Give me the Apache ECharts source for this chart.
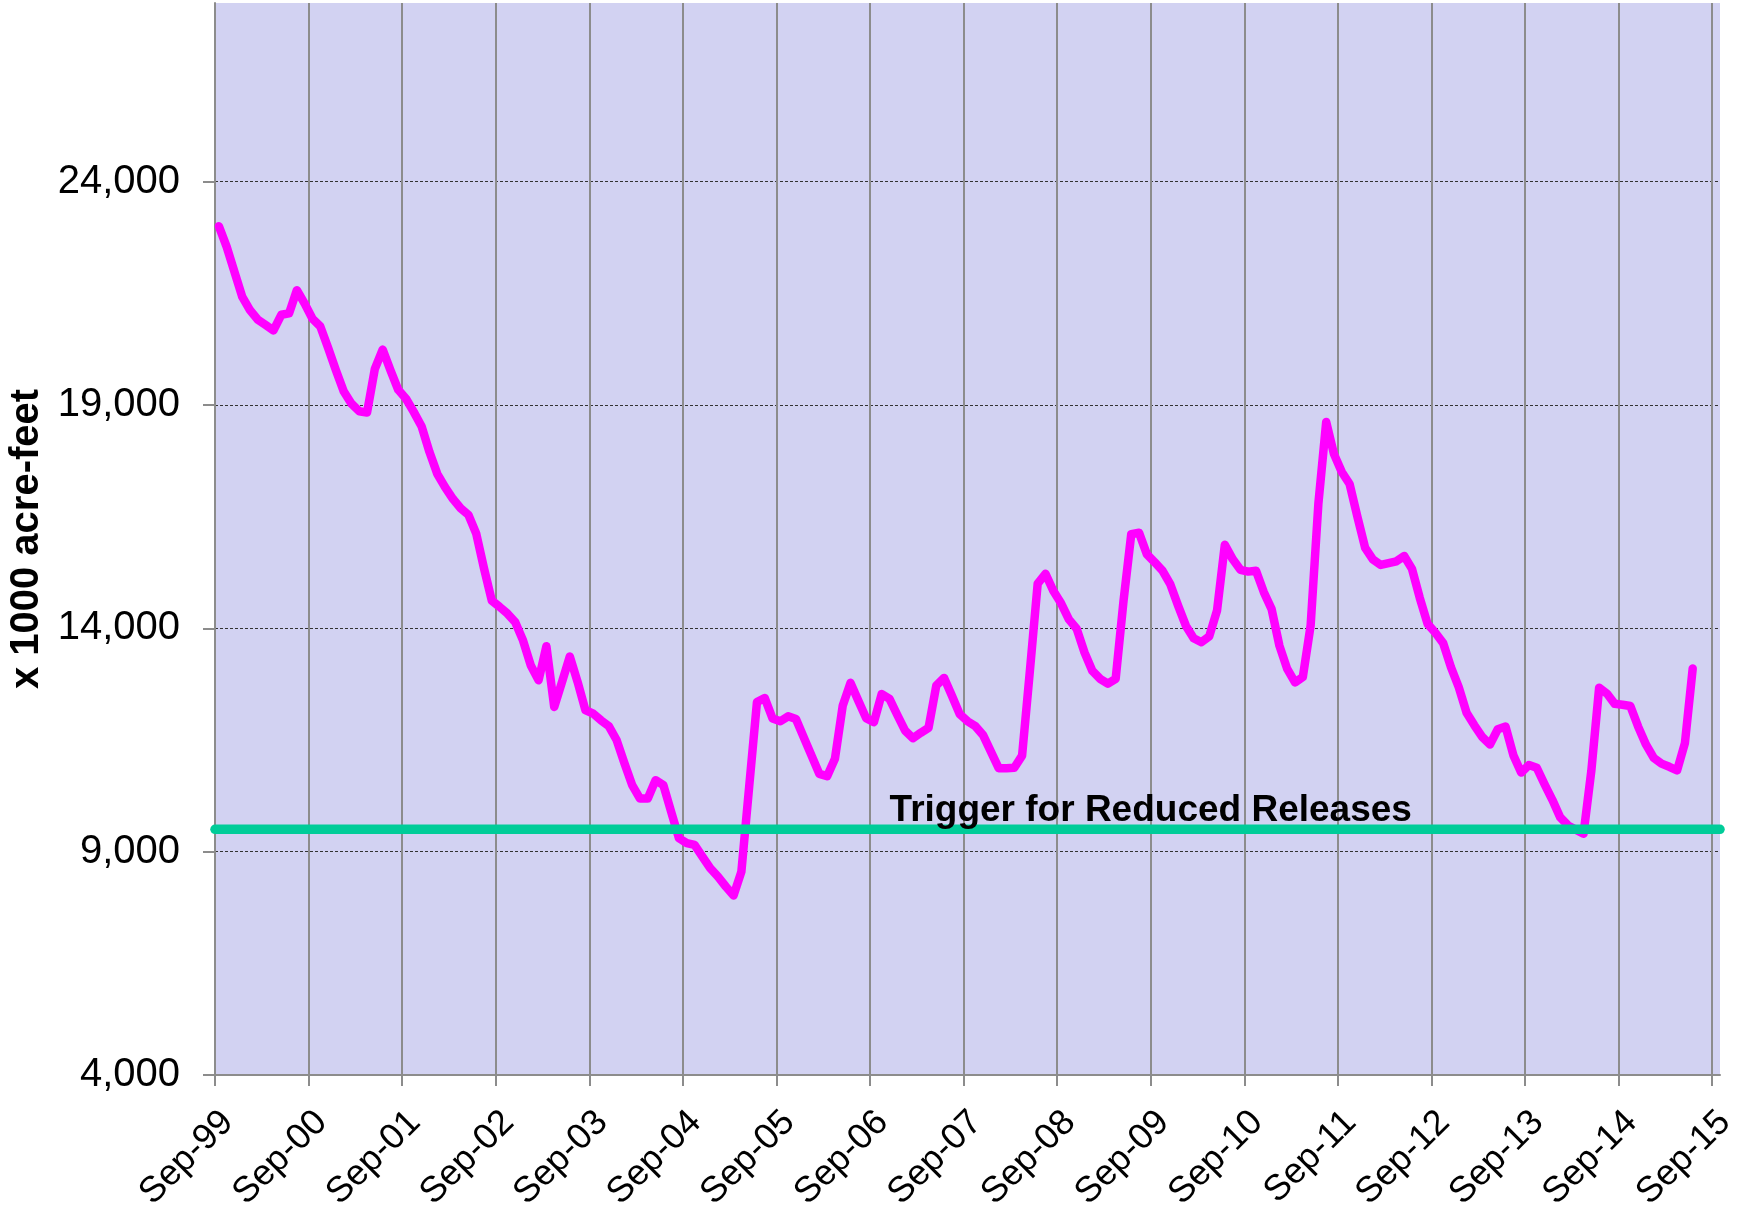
<!DOCTYPE html>
<html>
<head>
<meta charset="utf-8">
<script src="https://cdn.jsdelivr.net/npm/echarts@6/dist/echarts.min.js"></script>
<style>
html,body{margin:0;padding:0;background:#ffffff;}
#chart{width:1737px;height:1208px;}
</style>
</head>
<body>
<div id="chart"></div>
<script>
// ---- data ----
const tickLabels = ['Sep-99','Sep-00','Sep-01','Sep-02','Sep-03','Sep-04','Sep-05','Sep-06',
  'Sep-07','Sep-08','Sep-09','Sep-10','Sep-11','Sep-12','Sep-13','Sep-14','Sep-15'];
const yTickValues = [4000, 9000, 14000, 19000, 24000];
// monthly storage (x 1000 acre-feet), first value = Sep-99
const storage = [
  23000, 22540, 21980, 21420, 21120, 20910, 20790, 20670, 21020, 21050, 21570, 21270,
  20930, 20760, 20280, 19780, 19310, 19030, 18860, 18830, 19810, 20240, 19780, 19340,
  19140, 18840, 18520, 17950, 17460, 17160, 16900, 16690, 16540, 16120, 15340, 14620,
  14480, 14330, 14140, 13730, 13170, 12840, 13600, 12240, 12800, 13370, 12800, 12170,
  12090, 11940, 11810, 11500, 10980, 10490, 10190, 10190, 10600, 10490, 9890, 9300,
  9190, 9150, 8890, 8630, 8440, 8220, 8020, 8550, 10450, 12350, 12440, 11980,
  11920, 12030, 11970, 11560, 11150, 10740, 10690, 11080, 12270, 12780, 12380, 11990,
  11900, 12530, 12420, 12060, 11710, 11540, 11660, 11770, 12720, 12890, 12490, 12080,
  11920, 11810, 11610, 11240, 10870, 10870, 10880, 11150, 13050, 15000, 15220, 14840,
  14560, 14200, 13990, 13460, 13050, 12870, 12760, 12870, 14600, 16110, 16140, 15660,
  15480, 15290, 14990, 14510, 14060, 13780, 13690, 13820, 14400, 15870, 15550, 15310,
  15270, 15290, 14810, 14430, 13610, 13090, 12790, 12910, 14060, 16800, 18620, 17900,
  17500, 17230, 16500, 15800, 15540, 15420, 15460, 15500, 15620, 15330, 14680, 14100,
  13900, 13670, 13130, 12680, 12110, 11830, 11570, 11400, 11740, 11800, 11160, 10770,
  10940, 10880, 10510, 10160, 9770, 9590, 9490, 9400, 10810, 12670, 12540, 12310,
  12290, 12260, 11800, 11400, 11100, 10970, 10900, 10820, 11430, 13100
];
const triggerLevel = 9500;
const triggerText = 'Trigger for Reduced Releases';
const yTitle = 'x 1000 acre-feet';

// ---- derived ----
const MONTHS_PER_TICK = 12;
const xTickValues = tickLabels.map((_, i) => i * MONTHS_PER_TICK);
const xMax = xTickValues[xTickValues.length - 1] + 1;
const lineData = storage.map((v, i) => [i + 0.5, v]);   // points centred in each month slot
const triggerData = [[0, triggerLevel], [xMax, triggerLevel]];
const triggerLabelMonth = 120;

const FONT = "'Liberation Sans', Arial, sans-serif";
const chart = echarts.init(document.getElementById('chart'), null, {renderer: 'canvas'});

chart.setOption({
  animation: false,
  backgroundColor: '#ffffff',
  grid: {
    left: 215, right: 17, top: 3, bottom: 133,
    outerBoundsMode: 'none', containLabel: false,
    show: true, backgroundColor: '#D2D2F2', borderWidth: 0
  },
  xAxis: {
    type: 'value', min: 0, max: xMax,
    axisLine: {show: true, onZero: false, lineStyle: {color: '#8c8c8c', width: 2}},
    axisTick: {show: true, length: 11, lineStyle: {color: '#8c8c8c', width: 2}, customValues: xTickValues},
    axisLabel: {
      customValues: xTickValues,
      formatter: v => tickLabels[Math.round(v / MONTHS_PER_TICK)],
      rotate: 45, fontSize: 36, color: '#000', fontFamily: FONT, margin: 29,
      verticalAlign: 'top'
    },
    splitLine: {show: true, lineStyle: {color: '#8c8c8c', width: 2}}
  },
  yAxis: {
    type: 'value', min: 4000, max: 28000, interval: 5000,
    name: yTitle, nameLocation: 'middle', nameGap: 156,
    nameTextStyle: {fontSize: 40, fontWeight: 'bold', color: '#000', fontFamily: FONT},
    axisLine: {show: true, lineStyle: {color: '#8c8c8c', width: 2}},
    axisTick: {show: true, length: 12, lineStyle: {color: '#8c8c8c', width: 2}, customValues: yTickValues},
    axisLabel: {
      customValues: yTickValues,
      formatter: v => v.toLocaleString('en-US'),
      fontSize: 40, color: '#000', fontFamily: FONT, margin: 35
    },
    splitLine: {show: true, lineStyle: {color: '#333', width: 1.2, type: [3, 2]}}
  },
  series: [
    {
      name: 'Storage', type: 'line', data: lineData, showSymbol: false,
      lineStyle: {color: '#FF00FF', width: 8.5, cap: 'round', join: 'round'},
      z: 3
    },
    {
      name: 'Trigger', type: 'line', data: triggerData, showSymbol: false,
      lineStyle: {color: '#00CC99', width: 9.5, cap: 'round'},
      z: 4,
      markPoint: {
        symbol: 'circle', symbolSize: 1, itemStyle: {color: 'rgba(0,0,0,0)'},
        label: {
          show: true, position: 'top', distance: 0, formatter: triggerText,
          fontSize: 37, fontWeight: 'bold', color: '#000', fontFamily: FONT
        },
        data: [{coord: [triggerLabelMonth, triggerLevel]}]
      }
    }
  ]
});
</script>
</body>
</html>
